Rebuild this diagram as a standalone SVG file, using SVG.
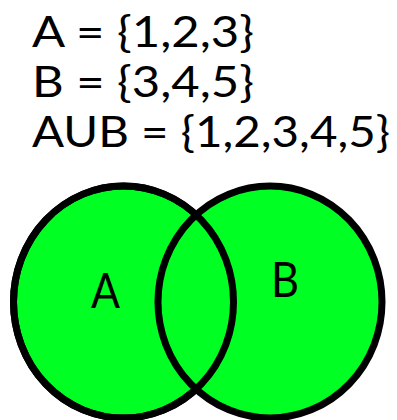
<svg xmlns="http://www.w3.org/2000/svg" width="397" height="420" viewBox="0 0 397 420">
  <style>
    .eq { font-family: Lato, "Open Sans", sans-serif; font-size: 43px; fill: #000; }
    .lbl { font-family: Lato, "Open Sans", sans-serif; font-size: 49px; fill: #000; }
    .set { fill: #00ff22; stroke: #000; stroke-width: 7; }
    .outline { fill: none; stroke: #000; stroke-width: 7; }
  </style>
  <rect width="397" height="420" fill="#fff"/>
  <g id="equations">
    <text class="eq" x="32" y="47" textLength="222" lengthAdjust="spacingAndGlyphs">A = {1,2,3}</text>
    <text class="eq" x="32" y="97" textLength="222" lengthAdjust="spacingAndGlyphs">B = {3,4,5}</text>
    <text class="eq" x="32" y="147" textLength="358" lengthAdjust="spacingAndGlyphs">AUB = {1,2,3,4,5}</text>
  </g>
  <g id="setA">
    <ellipse class="set" cx="123.5" cy="302" rx="110" ry="116"/>
  </g>
  <g id="setB">
    <ellipse class="set" cx="270" cy="302" rx="112" ry="116"/>
  </g>
  <g id="setA-outline">
    <ellipse class="outline" cx="123.5" cy="302" rx="110" ry="116"/>
  </g>
  <g id="connectors"></g>
  <g id="labels">
    <text class="lbl" x="91" y="308" textLength="29" lengthAdjust="spacingAndGlyphs">A</text>
    <text class="lbl" x="271" y="297" textLength="28" lengthAdjust="spacingAndGlyphs">B</text>
  </g>
</svg>
